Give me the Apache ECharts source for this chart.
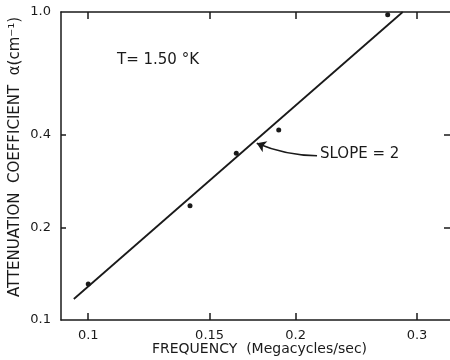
<!DOCTYPE html>
<html>
<head>
    <meta charset='utf-8' />
    <title>attenuation</title>
    <script src="https://cdn.jsdelivr.net/npm/echarts@6/dist/echarts.min.js"></script>
</head>
<body style='margin:0;width: 450px;height:360px;background:#fff;'>
<div id='chart' style='width:450px;height: 360px;'></div>

<script type='text/javascript'>
    // measured points (Megacycles/sec, cm^-1)
    var freq = [0.1, 0.1405, 0.164, 0.189, 0.272];
    var alpha = [0.131, 0.235, 0.348, 0.414, 0.98];
    // fitted line, slope = 2
    var fitFreq = [0.0953, 0.286];
    var fitAlpha = [0.117, 1.0];
    // arrow pointing at the line
    var arrowFreq = [0.2148, 0.1756];
    var arrowAlpha = [0.3415, 0.3748];

    var xTicks = [0.1, 0.15, 0.2, 0.3];
    var xTickLabels = ['0.1', '0.15', '0.2', '0.3'];
    var yTicks = [0.1, 0.2, 0.4, 1.0];
    var yTickLabels = ['0.1', '0.2', '0.4', '1.0'];
    var yRightTicks = [0.2, 0.4];

    var font = 'DejaVu Sans';
    var ink = '#1a1a1a';

    var chart = echarts.init(document.getElementById('chart'));

    var option = {
        animation: false,
        grid: { left: 61, top: 12, right: -2, bottom: 40, containLabel: false, outerBoundsMode: 'none' },
        xAxis: [
            {
                type: 'log', logBase: 10, min: 0.0913, max: 0.3372,
                name: 'FREQUENCY  (Megacycles/sec)', nameLocation: 'middle', nameGap: 22, nameMoveOverlap: false,
                nameTextStyle: { fontFamily: font, fontSize: 14, color: ink, padding: [0, 0, 0, 6] },
                axisLine: { show: true, lineStyle: { color: ink, width: 1.5 } },
                axisTick: { inside: true, length: 7, customValues: xTicks, lineStyle: { color: ink, width: 1.5 } },
                axisLabel: {
                    customValues: xTicks, margin: 9, fontFamily: font, fontSize: 13, color: ink,
                    formatter: function (v) { return xTickLabels[xTicks.indexOf(+v.toFixed(2))] || v; }
                },
                splitLine: { show: false }
            },
            {
                type: 'log', logBase: 10, min: 0.0913, max: 0.3372, position: 'top',
                axisLine: { show: true, lineStyle: { color: ink, width: 1.5 } },
                axisTick: { inside: true, length: 7, customValues: xTicks, lineStyle: { color: ink, width: 1.5 } },
                axisLabel: { show: false },
                splitLine: { show: false }
            }
        ],
        yAxis: [
            {
                type: 'log', logBase: 10, min: 0.1, max: 1.0,
                name: 'ATTENUATION  COEFFICIENT  α(cm⁻¹)', nameLocation: 'middle', nameGap: 38, nameRotate: 90,
                nameMoveOverlap: false,
                nameTextStyle: { fontFamily: font, fontSize: 15, color: ink, padding: [0, 0, 0, 18] },
                axisLine: { show: true, lineStyle: { color: ink, width: 1.5 } },
                axisTick: { inside: true, length: 5, customValues: [0.2, 0.4], lineStyle: { color: ink, width: 1.5 } },
                axisLabel: {
                    customValues: yTicks, margin: 10, fontFamily: font, fontSize: 13, color: ink,
                    formatter: function (v) { return yTickLabels[yTicks.indexOf(+v.toFixed(2))] || v; }
                },
                splitLine: { show: false }
            },
            {
                type: 'log', logBase: 10, min: 0.1, max: 1.0, position: 'right',
                axisLine: { show: false },
                axisTick: { inside: true, length: 8, customValues: yRightTicks, lineStyle: { color: ink, width: 1.5 } },
                axisLabel: { show: false },
                splitLine: { show: false }
            }
        ],
        graphic: [
            { type: 'text', left: 117, top: 53, style: { text: 'T= 1.50 °K', fontFamily: font, fontSize: 15, fill: ink } },
            { type: 'text', left: 320, top: 147, style: { text: 'SLOPE = 2', fontFamily: font, fontSize: 15, fill: ink } }
        ],
        series: [
            {
                type: 'line', xAxisIndex: 0, yAxisIndex: 0,
                data: fitFreq.map(function (f, i) { return [f, fitAlpha[i]]; }),
                showSymbol: false, lineStyle: { color: ink, width: 1.8 }
            },
            {
                type: 'scatter', xAxisIndex: 0, yAxisIndex: 0,
                data: freq.map(function (f, i) { return [f, alpha[i]]; }),
                symbolSize: 5, itemStyle: { color: ink, opacity: 1 }
            },
            {
                type: 'lines', coordinateSystem: 'cartesian2d', xAxisIndex: 0, yAxisIndex: 0,
                symbol: ['none', 'arrow'], symbolSize: 9,
                data: [{ coords: arrowFreq.map(function (f, i) { return [f, arrowAlpha[i]]; }) }],
                lineStyle: { color: ink, width: 1.5, curveness: 0.1, opacity: 1 }
            }
        ]
    };

    chart.setOption(option);
</script>
</body>
</html>
